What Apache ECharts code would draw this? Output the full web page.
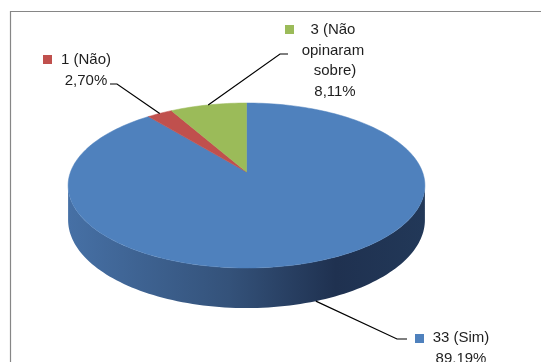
<!DOCTYPE html>
<html>
<head>
<meta charset="utf-8">
<script src="https://cdn.jsdelivr.net/npm/echarts@6/dist/echarts.min.js"></script>
<style>
  html, body { margin: 0; padding: 0; background: #ffffff; }
  #chart { width: 541px; height: 362px; }
</style>
</head>
<body>
<div id="chart"></div>
<script>
// Survey answers: count per answer, drawn as a tilted 3D pie
const categories = ['Sim', 'Não', 'Não opinaram sobre'];
const values = [33, 1, 3];
const colors = ['#4F81BD', '#C0504D', '#9BBB59'];
// darker shades for the outer wall of each slice (left, middle, right)
const wallShades = [
  ['#4670a5', '#34527a', '#1f3150', '#223858'],
  ['#9c3f3d', '#7f3230', '#5e2321', '#652725'],
  ['#7f9a48', '#687f3a', '#4d5f2a', '#53662d']
];

// placement of each label block relative to the chart box
const labelLayout = [
  { cx: 461, top: 328, width: 120, key: [415, 334], elbow: [397, 339], end: [407, 339] },
  { cx: 86,  top: 50,  width: 120, key: [43, 55],   elbow: [117, 84],  end: [110, 84] },
  { cx: 335, top: 20,  width: 74,  key: [285, 25],  elbow: [280, 54],  end: [288, 54] }
];

// perspective view of the disc
const view = { cx: 246.5, cy: 172, a: 176, b: 80.3, k: 0.1636, depth: 33.5 };
const total = values.reduce((s, v) => s + v, 0);

function project(deg, drop) {
  const r = deg * Math.PI / 180;
  const u = Math.sin(r), v = -Math.cos(r);
  const w = 1 - view.k * v;
  return [view.cx + view.a * u / w, view.cy + (view.b * v + (drop || 0)) / w];
}
function arc(from, to, drop) {
  const pts = [];
  const n = Math.max(2, Math.ceil(Math.abs(to - from) / 1.5));
  for (let i = 0; i <= n; i++) pts.push(project(from + (to - from) * i / n, drop));
  return pts;
}
function pct(v) {
  return (v / total * 100).toFixed(2).replace('.', ',') + '%';
}

// visible front wall runs between the two silhouette angles
const frontFrom = Math.acos(-view.k) * 180 / Math.PI;
const frontTo = 360 - frontFrom;

function renderItem(params, api) {
  const i = params.dataIndex;
  let start = 0;
  for (let j = 0; j < i; j++) start += values[j] / total * 360;
  const sweep = api.value(0) / total * 360;
  const end = start + sweep;
  const mid = start + sweep / 2;
  const children = [];

  // outer wall
  const ws = Math.max(start, frontFrom), we = Math.min(end, frontTo);
  if (we > ws) {
    const top = arc(ws, we, 0);
    const bottom = arc(we, ws, view.depth);
    const sh = wallShades[i];
    children.push({
      type: 'polygon', z2: 1,
      shape: { points: top.concat(bottom) },
      style: {
        fill: new echarts.graphic.LinearGradient(view.cx - view.a - 2, 0, view.cx + view.a + 2, 0, [
          { offset: 0, color: sh[0] },
          { offset: 0.45, color: sh[1] },
          { offset: 0.75, color: sh[2] },
          { offset: 1, color: sh[3] }
        ], true)
      }
    });
  }

  // top face
  children.push({
    type: 'polygon', z2: 2,
    shape: { points: [[view.cx, view.cy]].concat(arc(start, end, 0)) },
    style: { fill: colors[i], stroke: colors[i], lineWidth: 0.5 }
  });

  // leader line, label key and text
  const L = labelLayout[i];
  const onFront = mid > frontFrom && mid < frontTo;
  const anchor = project(mid, onFront ? view.depth : 0);
  children.push({
    type: 'polyline', z2: 3,
    shape: { points: [anchor, L.elbow, L.end] },
    style: { stroke: '#000000', lineWidth: 1.2, fill: null }
  });
  children.push({
    type: 'rect', z2: 4,
    shape: { x: L.key[0], y: L.key[1], width: 9, height: 9 },
    style: { fill: colors[i] }
  });
  children.push({
    type: 'text', z2: 4,
    style: {
      text: api.value(0) + ' (' + categories[i] + ')\n' + pct(api.value(0)),
      x: L.cx, y: L.top,
      width: L.width, overflow: 'break',
      align: 'center', verticalAlign: 'top',
      font: '15px "Liberation Sans", Arial, sans-serif',
      lineHeight: 20.5,
      fill: '#1e1e1e'
    }
  });
  return { type: 'group', children: children };
}

const chart = echarts.init(document.getElementById('chart'), null, { renderer: 'canvas' });
chart.setOption({
  animation: false,
  backgroundColor: '#ffffff',
  graphic: [{
    type: 'rect', z: -1,
    shape: { x: 10.5, y: 11.5, width: 540, height: 360 },
    style: { fill: null, stroke: '#868686', lineWidth: 1.2 }
  }],
  series: [{
    type: 'custom',
    coordinateSystem: 'none',
    renderItem: renderItem,
    data: values.map(v => [v])
  }]
});
</script>
</body>
</html>
